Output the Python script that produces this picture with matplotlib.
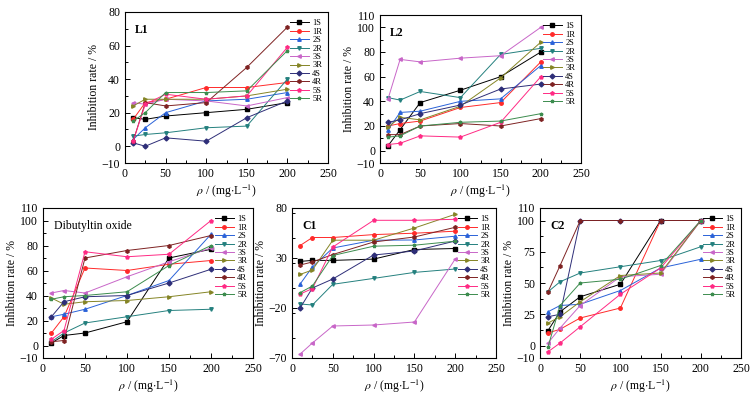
import matplotlib
matplotlib.use('Agg')
from matplotlib import pyplot as plt
from matplotlib.ticker import MultipleLocator

plt.rcParams['font.family'] = ['Liberation Serif', 'DejaVu Serif']
plt.rcParams['mathtext.fontset'] = 'stix'

conc = [10, 25, 50, 100, 150, 200]
names = ["1S", "1R", "2S", "2R", "3S", "3R", "4S", "4R", "5S", "5R"]
colors = ["#000000", "#FF2A2A", "#2A62D8", "#24807E", "#C866C8",
          "#858526", "#2E2E78", "#7E2222", "#FF2A84", "#3C8C4E"]
markers = ["s", "o", "^", "v", "<", ">", "D", "h", "p", "*"]

l1 = [[17, 16, 18, 20, 22, 26],
      [16, 26, 28, 35, 35, 38],
      [4, 11, 20, 27, 28, 32],
      [6, 7, 8, 11, 12, 40],
      [26, 25, 28, 27, 24, 29],
      [24, 28, 28, 28, 30, 34],
      [2, 0, 5, 3, 17, 27],
      [3, 26, 24, 26, 47, 71],
      [3, 25, 31, 28, 30, 59],
      [15, 20, 32, 32, 33, 57]]

l2 = [[4, 17, 39, 49, 60, 80],
      [20, 22, 24, 35, 39, 72],
      [17, 31, 32, 40, 42, 69],
      [43, 41, 48, 43, 78, 83],
      [42, 74, 72, 75, 77, 100],
      [19, 27, 25, 36, 59, 88],
      [23, 25, 30, 37, 50, 54],
      [13, 13, 20, 22, 20, 26],
      [5, 6, 12, 11, 23, 60],
      [11, 12, 20, 23, 24, 30]]

dbto = [[2, 8, 10, 19, 70, 77],
        [10, 23, 62, 60, 65, 68],
        [23, 25, 29, 40, 52, 89],
        [3, 10, 18, 23, 28, 29],
        [42, 44, 42, 55, 67, 78],
        [38, 33, 35, 36, 39, 43],
        [23, 35, 39, 40, 50, 61],
        [3, 4, 70, 76, 80, 88],
        [5, 12, 75, 71, 73, 100],
        [37, 39, 40, 43, 64, 80]]

c1 = [[26.6, 27.6, 27.6, 28.9, 38.5, 39.5],
      [42.5, 50.5, 50.5, 53.4, 54.8, 56.8],
      [4, 21, 40, 47.8, 48, 51.8],
      [-16, -17, 3.7, 9.6, 15.6, 19],
      [-66, -55, -38, -37, -34, 29],
      [13.6, 18, 47.8, 47.8, 60, 73.7],
      [-20, 0, 9, 33, 37, 47],
      [23, 26, 33.5, 46, 51, 60.7],
      [-6, -0.6, 41, 67.7, 67.7, 68.7],
      [-4.6, 2, 32.5, 41.8, 42.8, 46.8]]

c2 = [[12, 27, 39, 49, 100, 100],
      [10, 13, 22, 30, 100, 100],
      [27, 32, 33, 44, 62, 69],
      [43, 51, 58, 63, 68, 79],
      [2, 14, 32, 55, 57, 100],
      [18, 23, 35, 56, 58, 100],
      [23, 25, 100, 100, 100, 100],
      [43, 64, 100, 100, 100, 100],
      [-5, 2, 15, 41, 62, 100],
      [-1, 32, 50, 53, 64, 100]]

W, H = 756.0, 395.0

def make_panel(fig, box, data, title, bold, ylim, yticks, yminor):
    left, top, right, bottom = box
    ax = fig.add_axes([left / W, 1 - bottom / H, (right - left) / W, (bottom - top) / H])
    for i in range(len(names)):
        ax.plot(conc, data[i], color=colors[i], marker=markers[i], markersize=2.5,
                linewidth=0.7, label=names[i])
    ax.set_xlim(0, 250)
    ax.set_ylim(*ylim)
    ax.set_xticks([0, 50, 100, 150, 200, 250])
    ax.xaxis.set_minor_locator(MultipleLocator(25))
    ax.set_yticks(yticks)
    ax.yaxis.set_minor_locator(MultipleLocator(yminor))
    ax.tick_params(which='both', direction='in', labelsize=8.5, width=0.7)
    ax.tick_params(which='major', length=3.5)
    ax.tick_params(which='minor', length=2)
    for s in ax.spines.values():
        s.set_linewidth(0.8)
    ax.set_xlabel(r'$\rho$ / (mg$\cdot$L$^{-1}$)', fontsize=8.5, labelpad=2)
    ax.set_ylabel('Inhibition rate / %', fontsize=8.5, labelpad=1)
    ax.text(0.05, 0.92, title, transform=ax.transAxes, fontsize=8.5,
            fontweight='bold' if bold else 'normal', va='top')
    ax.legend(loc='upper right', frameon=False, fontsize=6, handlelength=2.3,
              labelspacing=0.05, handletextpad=0.4, borderaxespad=0.3,
              bbox_to_anchor=(1.0, 0.99))
    return ax

fig = plt.figure(figsize=(7.56, 3.95), dpi=100)

make_panel(fig, (125, 12, 328, 163), l1, "L1", True, (-10, 80),
           [-10, 0, 20, 40, 60, 80], 10)
make_panel(fig, (380, 15, 581, 163), l2, "L2", True, (-10, 110),
           [-10, 0, 20, 40, 60, 80, 100, 110], 10)
make_panel(fig, (43, 208, 253, 358), dbto, "Dibutyltin oxide", False, (-10, 110),
           [-10, 0, 20, 40, 60, 80, 100, 110], 10)
make_panel(fig, (292, 208, 496, 358), c1, "C1", True, (-70, 80),
           [-70, -20, 30, 80], 25)
make_panel(fig, (540, 208, 741, 358), c2, "C2", True, (-10, 110),
           [-10, 0, 25, 50, 75, 100, 110], 12.5)

fig.savefig('out.png', dpi=100)
